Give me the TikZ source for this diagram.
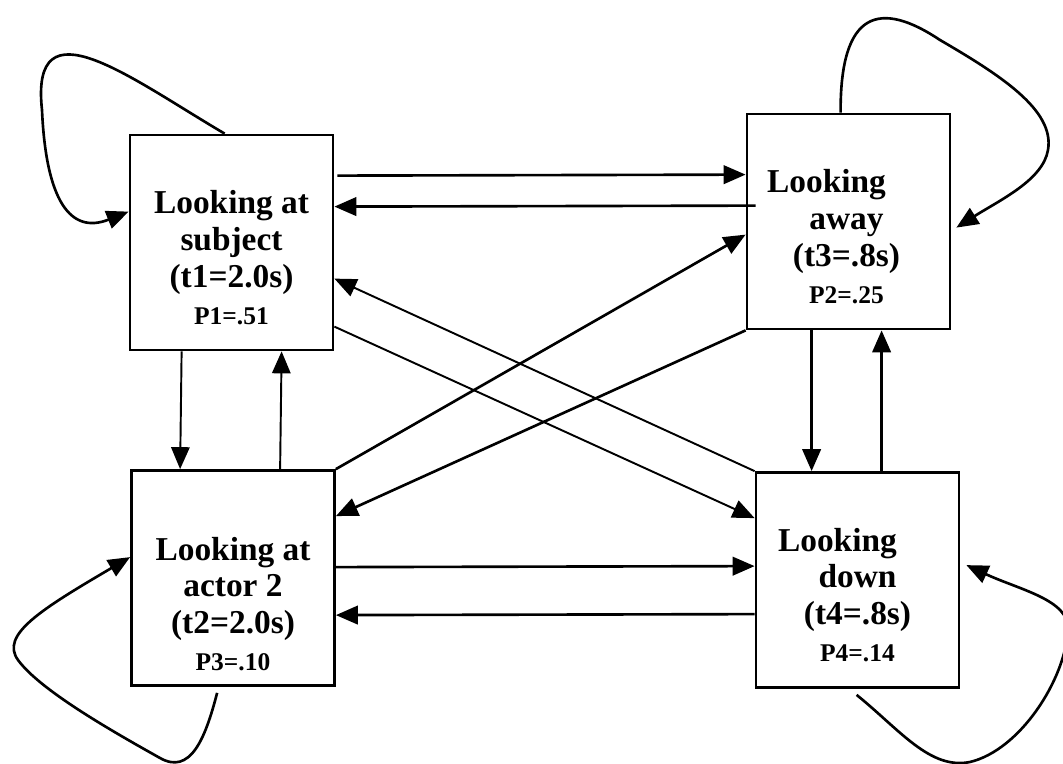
\documentclass[tikz,border=0pt]{standalone}
\usepackage{fontspec}
\setmainfont{Liberation Serif}
\usepackage{tikz}
\usetikzlibrary{arrows.meta,calc}

\newcommand{\psize}{\fontsize{14.5}{21}\selectfont}

\begin{document}
\begin{tikzpicture}[
                        x=0.02cm, y=-0.02cm,
                        state/.style={
                                draw,
                                line width=1.6pt,
                                minimum width=4.06cm,
                                minimum height=4.3cm,
                                inner sep=0pt,
                            },
                        statetext/.style={
                                align=center,
                                inner sep=0pt,
                                font=\fontsize{19}{21}\selectfont\bfseries,
                            },
                        trans/.style={
                                line width=1.5pt,
                                -{Triangle[length=12.5pt,width=10.5pt]},
                            },
                        thintrans/.style={trans, line width=1.1pt},
                    ]

                    \useasboundingbox (0,0) rectangle (1063,764);

                    \node[state] (subj)  at (231.5,242.5) {};
                    \node[state] (away)  at (848.5,221.5) {};
                    \node[state] (actor) at (233,578) {};
                    \node[state] (down)  at (857.5,580) {};

                    \node[statetext] (subjlbl)  at ($(subj)+(0,15)$)   {Looking at\\subject\\(t1=2.0s)\\\psize P1=.51};
                    \node[statetext] (awaylbl)  at ($(away)+(-2,15)$)  {Looking\hspace*{1.2em}\\away\\(t3=.8s)\\\psize P2=.25};
                    \node[statetext] (actorlbl) at ($(actor)+(0,26)$)  {Looking at\\actor 2\\(t2=2.0s)\\\psize P3=.10};
                    \node[statetext] (downlbl)  at ($(down)+(0,15)$)   {Looking\hspace*{1.2em}\\down\\(t4=.8s)\\\psize P4=.14};

                    \draw[trans] ($(subj.north east)+(3,42)$) -- ($(away.north west)+(0,62)$);
                    \draw[trans] ($(away.north west)+(10,93)$) -- ($(subj.north east)+(0,73)$);
                    \draw[trans] ($(actor.north east)+(0,98)$) -- ($(down.north west)+(0,95)$);
                    \draw[trans] ($(down.north west)+(0,143)$) -- ($(actor.north east)+(0,146)$);

                    \draw[trans] (actor.north east) -- ($(away.north west)+(0,122)$);
                    \draw[trans] (away.south west) -- ($(actor.north east)+(0,47)$);
                    \draw[thintrans] ($(subj.north east)+(0,193)$) -- ($(down.north west)+(0,47)$);
                    \draw[thintrans] (down.north west) -- ($(subj.north east)+(0,145)$);

                    \draw[thintrans] ($(subj.south west)+(53,0)$) -- ($(actor.north west)+(50,0)$);
                    \draw[thintrans] ($(actor.north west)+(150,0)$) -- ($(subj.south west)+(153,0)$);
                    \draw[trans] ($(away.south west)+(66,0)$) -- ($(down.north west)+(57,0)$);
                    \draw[trans] ($(down.north west)+(127,0)$) -- ($(away.south west)+(136,0)$);

                    \draw[trans] ($(subj.north west)+(96,0)$) .. controls (130,78) and (30,0) .. (42,110)
                        .. controls (46,200) and (70,235) .. ($(subj.north west)+(0,78)$);
                    \draw[trans] ($(away.north west)+(95,0)$) .. controls (840,10) and (880,0) .. (940,40)
                        .. controls (1000,75) and (1055,110) .. (1048,150)
                        .. controls (1043,180) and (1000,200) .. ($(away.north east)+(5,115)$);
                    \draw[trans] ($(actor.south west)+(87,6)$) .. controls (205,740) and (190,775) .. (160,758)
                        .. controls (110,730) and (40,690) .. (18,660)
                        .. controls (0,635) and (40,610) .. ($(actor.north west)+(0,88)$);
                    \draw[trans] ($(down.south west)+(102,6)$) .. controls (900,730) and (930,770) .. (970,762)
                        .. controls (1020,750) and (1065,680) .. (1068,630)
                        .. controls (1070,600) and (1020,590) .. ($(down.north east)+(6,94)$);
                \end{tikzpicture}
\end{document}
